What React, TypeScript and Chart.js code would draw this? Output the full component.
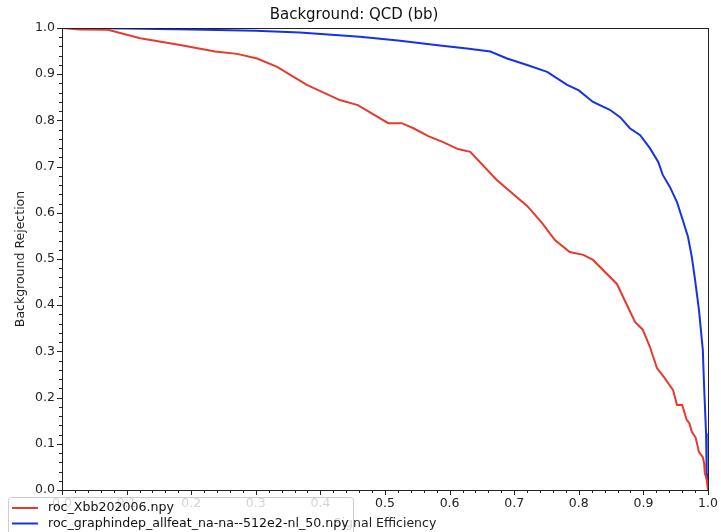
import React, { useEffect, useRef } from "react";
import { Chart, registerables } from "chart.js";

Chart.register(...registerables);

const chartTitle = "Background: QCD (bb)";
const xAxisTitle = "Signal Efficiency";
const yAxisTitle = "Background Rejection";

const redLabel = "roc_Xbb202006.npy";
const redX = [0, 0.028, 0.071, 0.121, 0.183, 0.237, 0.271, 0.302, 0.333, 0.379, 0.43, 0.458, 0.505, 0.526, 0.544, 0.567, 0.59, 0.613, 0.632, 0.673, 0.72, 0.743, 0.763, 0.786, 0.807, 0.822, 0.859, 0.887, 0.899, 0.91, 0.921, 0.933, 0.946, 0.952, 0.96, 0.967, 0.971, 0.975, 0.981, 0.986, 0.992, 0.994, 0.995, 0.998, 1.0];
const redY = [1.0, 0.997, 0.996, 0.978, 0.963, 0.949, 0.944, 0.934, 0.916, 0.877, 0.844, 0.833, 0.794, 0.794, 0.783, 0.766, 0.753, 0.738, 0.732, 0.671, 0.615, 0.578, 0.541, 0.515, 0.509, 0.498, 0.446, 0.364, 0.347, 0.31, 0.264, 0.242, 0.216, 0.184, 0.184, 0.152, 0.145, 0.126, 0.113, 0.082, 0.071, 0.058, 0.037, 0.022, 0.0];

const blueLabel = "roc_graphindep_allfeat_na-na--512e2-nl_50.npy";
const blueX = [0, 0.1, 0.2, 0.3, 0.368, 0.461, 0.52, 0.585, 0.63, 0.663, 0.689, 0.72, 0.751, 0.782, 0.8, 0.822, 0.848, 0.864, 0.879, 0.895, 0.91, 0.923, 0.93, 0.941, 0.952, 0.961, 0.969, 0.975, 0.98, 0.986, 0.992, 0.994, 0.997, 0.998, 1.0];
const blueY = [1.0, 0.999, 0.997, 0.994, 0.99, 0.981, 0.973, 0.962, 0.955, 0.949, 0.934, 0.92, 0.905, 0.877, 0.865, 0.84, 0.823, 0.807, 0.783, 0.768, 0.74, 0.71, 0.682, 0.656, 0.623, 0.584, 0.548, 0.504, 0.455, 0.39, 0.303, 0.223, 0.123, 0.037, 0.02];

const redColor = "#e53a2e";
const blueColor = "#1533e6";
const FONT = "'DejaVu Sans', sans-serif";

const toPoints = (xs: number[], ys: number[]) => xs.map((x, i) => ({ x, y: ys[i] }));

const bgPlugin = {
  id: "bg",
  beforeDraw(chart: any) {
    const { ctx, width, height } = chart;
    ctx.save();
    ctx.fillStyle = "#fff";
    ctx.fillRect(0, 0, width, height);
    ctx.restore();
  },
};

const framePlugin = {
  id: "frame",
  afterDatasetsDraw(chart: any) {
    const { ctx, chartArea } = chart;
    const xs = chart.scales.x;
    const ys = chart.scales.y;
    ctx.save();
    ctx.strokeStyle = "#222";
    ctx.lineWidth = 1;
    ctx.strokeRect(
      Math.round(chartArea.left) + 0.5,
      Math.round(chartArea.top) + 0.5,
      Math.round(chartArea.right - chartArea.left),
      Math.round(chartArea.bottom - chartArea.top)
    );
    for (let i = 0; i <= 50; i++) {
      const v = i * 0.02;
      const len = i % 5 === 0 ? 5 : 3;
      const px = Math.round(xs.getPixelForValue(v)) + 0.5;
      ctx.beginPath();
      ctx.moveTo(px, chartArea.bottom);
      ctx.lineTo(px, chartArea.bottom + len);
      ctx.stroke();
      const py = Math.round(ys.getPixelForValue(v)) + 0.5;
      ctx.beginPath();
      ctx.moveTo(chartArea.left, py);
      ctx.lineTo(chartArea.left - len, py);
      ctx.stroke();
    }
    ctx.restore();
  },
};

const legendPlugin = {
  id: "customLegend",
  afterDraw(chart: any) {
    const { ctx } = chart;
    ctx.save();
    const bx = 8.5, by = 497.5, bw = 345, bh = 50, r = 3;
    ctx.beginPath();
    ctx.moveTo(bx + r, by);
    ctx.lineTo(bx + bw - r, by);
    ctx.quadraticCurveTo(bx + bw, by, bx + bw, by + r);
    ctx.lineTo(bx + bw, by + bh);
    ctx.lineTo(bx, by + bh);
    ctx.lineTo(bx, by + r);
    ctx.quadraticCurveTo(bx, by, bx + r, by);
    ctx.closePath();
    ctx.fillStyle = "rgba(255,255,255,0.8)";
    ctx.fill();
    ctx.strokeStyle = "#cccccc";
    ctx.lineWidth = 1;
    ctx.stroke();
    chart.data.datasets.forEach((ds: any, i: number) => {
      const y = 508 + i * 15.5;
      ctx.strokeStyle = ds.borderColor;
      ctx.lineWidth = 2;
      ctx.beginPath();
      ctx.moveTo(12, y);
      ctx.lineTo(38, y);
      ctx.stroke();
      ctx.fillStyle = "#111";
      ctx.font = `12.6px ${FONT}`;
      ctx.textBaseline = "middle";
      ctx.textAlign = "left";
      ctx.fillText(ds.label, 48, y);
    });
    ctx.restore();
  },
};

export default function App() {
  const ref = useRef<HTMLCanvasElement | null>(null);
  useEffect(() => {
    if (!ref.current) return;
    const chart = new Chart(ref.current, {
      type: "line",
      data: {
        datasets: [
          {
            label: redLabel,
            data: toPoints(redX, redY),
            borderColor: redColor,
            borderWidth: 2,
            pointRadius: 0,
            tension: 0,
            fill: false,
          },
          {
            label: blueLabel,
            data: toPoints(blueX, blueY),
            borderColor: blueColor,
            borderWidth: 2,
            pointRadius: 0,
            tension: 0,
            fill: false,
          },
        ],
      },
      options: {
        animation: false,
        responsive: false,
        devicePixelRatio: 1,
        layout: { padding: { left: 0, right: 13, top: 0, bottom: 0 } },
        plugins: {
          legend: { display: false },
          tooltip: { enabled: false },
          title: {
            display: true,
            text: chartTitle,
            color: "#111",
            font: { family: FONT, size: 15, weight: "normal" },
            padding: { top: 6, bottom: 4 },
          },
        },
        scales: {
          x: {
            type: "linear",
            min: 0,
            max: 1,
            afterFit(scale: any) {
              scale.height = 42;
              scale.paddingLeft = 0;
              scale.paddingRight = 0;
            },
            grid: { display: false, drawTicks: false },
            border: { display: false },
            ticks: {
              stepSize: 0.1,
              padding: 6,
              color: "#222",
              font: { family: FONT, size: 12.5 },
              maxRotation: 0,
              callback: (v: any) => Number(v).toFixed(1),
            },
            title: {
              display: true,
              text: xAxisTitle,
              color: "#222",
              font: { family: FONT, size: 12.5 },
              padding: { top: 0, bottom: 1 },
            },
          },
          y: {
            type: "linear",
            min: 0,
            max: 1,
            afterFit(scale: any) {
              scale.width = 62;
              scale.paddingTop = 0;
              scale.paddingBottom = 0;
            },
            grid: { display: false, drawTicks: false },
            border: { display: false },
            ticks: {
              stepSize: 0.1,
              padding: 7,
              color: "#222",
              font: { family: FONT, size: 12.5 },
              callback: (v: any) => Number(v).toFixed(1),
            },
            title: {
              display: true,
              text: yAxisTitle,
              color: "#222",
              font: { family: FONT, size: 12.5 },
              padding: { top: 13, bottom: 0 },
            },
          },
        },
      } as any,
      plugins: [bgPlugin, framePlugin, legendPlugin],
    });
    return () => chart.destroy();
  }, []);
  return (
    <div style={{ position: "absolute", left: 0, top: 0, width: 721, height: 532 }}>
      <canvas ref={ref} width={721} height={532} style={{ display: "block" }} />
    </div>
  );
}
